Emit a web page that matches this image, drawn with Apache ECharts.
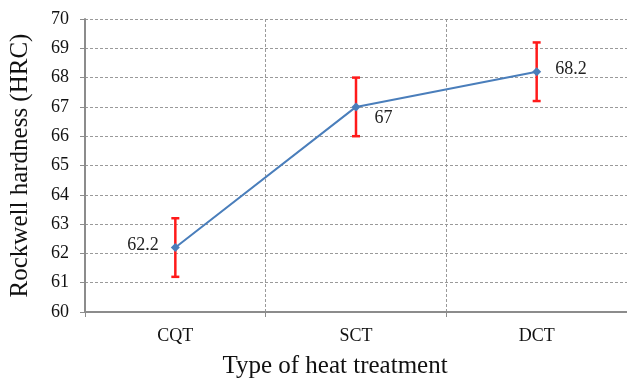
<!DOCTYPE html>
<html><head><meta charset="utf-8">
<script src="https://cdn.jsdelivr.net/npm/echarts@6/dist/echarts.min.js"></script>
<style>html,body{margin:0;padding:0;background:#fff}#c{width:627px;height:381px}</style>
</head><body><div id="c"></div>
<script>
const categories = ['CQT', 'SCT', 'DCT'];
const hardness = [62.2, 67, 68.2];
const errors = [1, 1, 1];
const yMin = 60, yMax = 70, yStep = 1;

const chart = echarts.init(document.getElementById('c'));
const font = 'Liberation Serif';
const labelCfg = [
  {position: 'left', distance: 12, offset: [0, -2]},
  {position: 'right', distance: 14, offset: [0, 11]},
  {position: 'right', distance: 14, offset: [0, -2]}
];
chart.setOption({
  animation: false,
  grid: {left: 85, right: 0, top: 19, bottom: 69, containLabel: false, outerBoundsMode: 'none'},
  xAxis: {
    type: 'category', data: categories, boundaryGap: true,
    name: 'Type of heat treatment', nameLocation: 'middle', nameGap: 42,
    nameTextStyle: {fontFamily: font, fontSize: 25, color: '#111', padding: [0, 42, 0, 0]},
    axisLine: {lineStyle: {color: '#8c8c8c', width: 2}},
    axisTick: {show: true, length: 5, lineStyle: {color: '#8c8c8c'}},
    axisLabel: {fontFamily: font, fontSize: 18, color: '#111', margin: 15},
    splitLine: {show: true, interval: 0, lineStyle: {color: '#9a9a9a', type: [3, 2], width: 1}}
  },
  yAxis: {
    type: 'value', min: yMin, max: yMax, interval: yStep,
    name: 'Rockwell hardness (HRC)', nameLocation: 'middle', nameGap: 52,
    nameTextStyle: {fontFamily: font, fontSize: 25, color: '#111'},
    axisLine: {show: true, lineStyle: {color: '#8c8c8c', width: 2}},
    axisTick: {show: true, length: 5, lineStyle: {color: '#8c8c8c'}},
    axisLabel: {fontFamily: font, fontSize: 18, color: '#111', margin: 16},
    splitLine: {show: true, lineStyle: {color: '#9a9a9a', type: [3, 2], width: 1}}
  },
  series: [
    {
      type: 'custom',
      data: categories.map((c, i) => [i, hardness[i] - errors[i], hardness[i] + errors[i]]),
      z: 3,
      renderItem: function (params, api) {
        const lo = api.coord([api.value(0), api.value(1)]);
        const hi = api.coord([api.value(0), api.value(2)]);
        const hw = 4;
        const st = {stroke: '#ff1a1a', lineWidth: 2.5};
        return {type: 'group', children: [
          {type: 'line', shape: {x1: lo[0], y1: lo[1], x2: hi[0], y2: hi[1]}, style: st},
          {type: 'line', shape: {x1: lo[0] - hw, y1: lo[1], x2: lo[0] + hw, y2: lo[1]}, style: st},
          {type: 'line', shape: {x1: hi[0] - hw, y1: hi[1], x2: hi[0] + hw, y2: hi[1]}, style: st}
        ]};
      }
    },
    {
      type: 'line', z: 5,
      data: hardness.map((v, i) => ({
        value: v,
        label: Object.assign({show: true}, labelCfg[i])
      })),
      symbol: 'diamond', symbolSize: 9,
      itemStyle: {color: '#4a7ebb'},
      lineStyle: {color: '#4a7ebb', width: 2},
      label: {fontFamily: font, fontSize: 18, color: '#222'}
    }
  ]
});
</script></body></html>
